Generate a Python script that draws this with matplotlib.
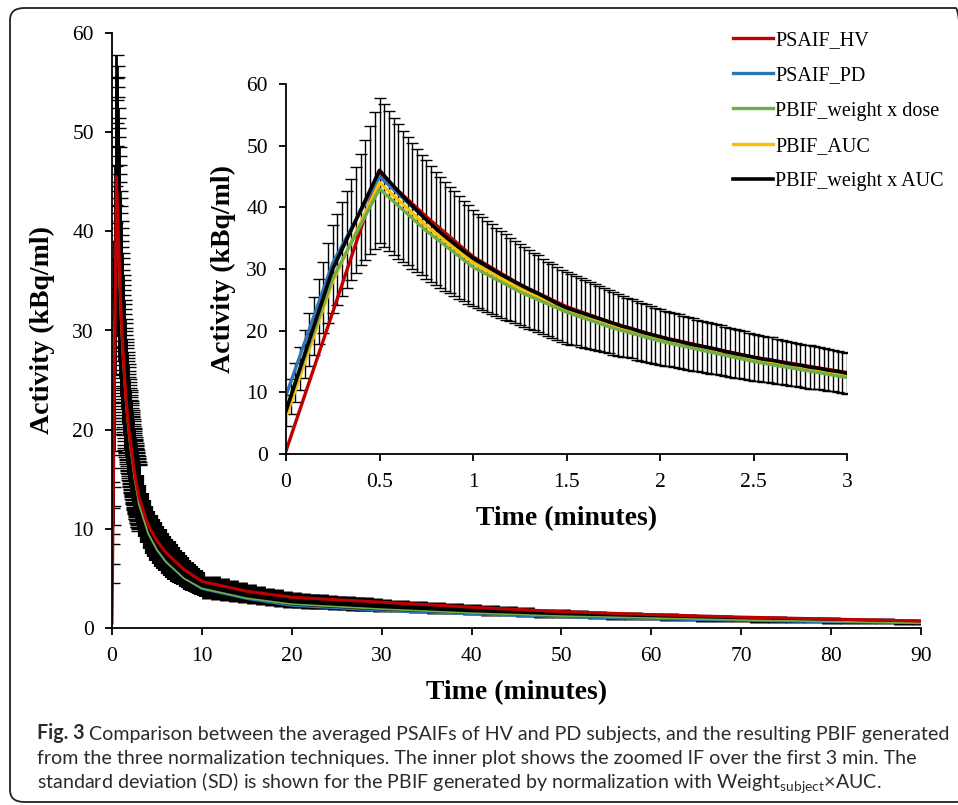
import matplotlib
matplotlib.use("Agg")
import matplotlib.pyplot as plt
from matplotlib.patches import FancyBboxPatch

plt.rcParams["mathtext.fontset"] = "custom"
plt.rcParams["mathtext.rm"] = "Lato"

# ---- data ----
# black series (PBIF_weight x AUC) with SD, dense sampling for the error bars
t_early = [round(0.025 * i, 3) for i in range(121)]          # 0 .. 3 min
t_mid = [round(3 + 0.25 * i, 2) for i in range(1, 29)]        # 3.25 .. 10 min
t_late = list(range(11, 31)) + list(range(32, 91, 2))         # 11 .. 90 min
t_black = t_early + t_mid + t_late

black_mean = [
    # 0 - 0.5
    7.0, 9.3, 11.6, 13.9, 16.2, 18.5, 20.8, 23.1, 25.4, 27.7, 30.0,
    31.6, 33.2, 34.8, 36.4, 38.0, 39.6, 41.2, 42.8, 44.4, 46.0,
    # 0.5 - 1
    45.15, 44.3, 43.45, 42.6, 41.8, 41.0, 40.25, 39.5, 38.75, 38.0,
    37.3, 36.6, 35.95, 35.3, 34.7, 34.1, 33.5, 32.9, 32.35, 31.8,
    # 1 - 1.5
    31.35, 30.9, 30.45, 30.0, 29.55, 29.1, 28.7, 28.3, 27.9, 27.5,
    27.1, 26.7, 26.35, 26.0, 25.6, 25.2, 24.8, 24.4, 24.05, 23.7,
    # 1.5 - 2
    23.45, 23.2, 22.95, 22.7, 22.45, 22.2, 21.95, 21.7, 21.45, 21.2,
    20.95, 20.7, 20.5, 20.3, 20.05, 19.8, 19.6, 19.4, 19.2, 19.0,
    # 2 - 2.5
    18.8, 18.6, 18.45, 18.3, 18.1, 17.9, 17.75, 17.6, 17.45, 17.3,
    17.15, 17.0, 16.8, 16.6, 16.45, 16.3, 16.15, 16.0, 15.85, 15.7,
    # 2.5 - 3
    15.55, 15.4, 15.3, 15.2, 15.05, 14.9, 14.75, 14.6, 14.5, 14.4,
    14.25, 14.1, 14.0, 13.9, 13.75, 13.6, 13.5, 13.4, 13.25, 13.1,
    # 3.25 - 10
    12.3, 11.5, 10.8, 10.2, 9.75, 9.3, 8.95, 8.6, 8.3, 8.0, 7.7, 7.4, 7.15, 6.9,
    6.7, 6.5, 6.3, 6.1, 5.9, 5.7, 5.5, 5.3, 5.15, 5.0, 4.85, 4.7, 4.55, 4.4,
    # 11 - 30
    4.1, 3.9, 3.75, 3.6, 3.45, 3.3, 3.17, 3.05, 2.95, 2.85,
    2.78, 2.7, 2.65, 2.6, 2.55, 2.5, 2.45, 2.4, 2.35, 2.3,
    # 32 - 90
    2.2, 2.1, 2.0, 1.95, 1.85, 1.75, 1.7, 1.6, 1.5, 1.45,
    1.4, 1.3, 1.25, 1.2, 1.15, 1.1, 1.05, 1.0, 0.95, 0.9,
    0.88, 0.85, 0.82, 0.8, 0.75, 0.72, 0.7, 0.66, 0.63, 0.6,
]
black_sd = [
    2.5, 2.8, 3.1, 3.5, 3.9, 4.3, 4.7, 5.25, 5.8, 6.5, 7.2,
    7.4, 7.6, 7.9, 8.2, 8.6, 9.0, 9.7, 10.4, 11.1, 11.8,
    11.55, 11.3, 11.1, 10.9, 10.65, 10.4, 10.2, 10.0, 9.8, 9.6,
    9.4, 9.2, 9.0, 8.8, 8.65, 8.5, 8.3, 8.1, 7.95, 7.8,
    7.65, 7.5, 7.4, 7.3, 7.15, 7.0, 6.9, 6.8, 6.7, 6.6,
    6.5, 6.4, 6.3, 6.2, 6.1, 6.0, 5.95, 5.9, 5.85, 5.8,
    5.7, 5.6, 5.55, 5.5, 5.4, 5.3, 5.25, 5.2, 5.15, 5.1,
    5.0, 4.9, 4.85, 4.8, 4.75, 4.7, 4.65, 4.6, 4.55, 4.5,
    4.45, 4.4, 4.4, 4.4, 4.35, 4.3, 4.25, 4.2, 4.15, 4.1,
    4.1, 4.1, 4.05, 4.0, 3.95, 3.9, 3.9, 3.9, 3.85, 3.8,
    3.75, 3.7, 3.7, 3.7, 3.65, 3.6, 3.6, 3.6, 3.55, 3.5,
    3.5, 3.5, 3.45, 3.4, 3.4, 3.4, 3.35, 3.3, 3.3, 3.3,
    3.1, 2.9, 2.8, 2.7, 2.6, 2.5, 2.45, 2.4, 2.35, 2.3, 2.25, 2.2, 2.15, 2.1,
    2.05, 2.0, 1.9, 1.8, 1.75, 1.7, 1.65, 1.6, 1.55, 1.5, 1.43, 1.35, 1.3, 1.25,
    1.17, 1.1, 1.05, 1.0, 0.95, 0.9, 0.87, 0.85, 0.82, 0.8,
    0.77, 0.75, 0.73, 0.72, 0.71, 0.7, 0.69, 0.68, 0.66, 0.65,
    0.62, 0.6, 0.58, 0.56, 0.54, 0.52, 0.5, 0.48, 0.46, 0.45,
    0.44, 0.42, 0.41, 0.4, 0.39, 0.38, 0.37, 0.36, 0.35, 0.34,
    0.34, 0.33, 0.33, 0.32, 0.32, 0.31, 0.31, 0.3, 0.3, 0.3,
]

# other curves, coarser sampling
t_line = [0, 0.25, 0.5, 0.75, 1, 1.25, 1.5, 1.75, 2, 2.5, 3, 4, 5, 6, 8, 10,
          15, 20, 30, 40, 50, 60, 70, 80, 90]
psaif_hv = [0.5, 23.0, 45.5, 38.5, 32.0, 27.5, 23.9, 21.2, 19.0, 15.7, 13.2,
            10.4, 8.8, 7.6, 5.9, 4.7, 3.7, 3.1, 2.6, 2.1, 1.65, 1.35, 1.1, 0.9, 0.7]
psaif_pd = [9.5, 31.0, 45.0, 38.0, 31.3, 27.0, 23.4, 20.8, 18.6, 15.3, 12.8,
            9.5, 7.8, 6.6, 5.0, 3.9, 2.9, 2.2, 1.7, 1.35, 1.05, 0.85, 0.7, 0.55, 0.45]
pbif_wdose = [7.0, 28.5, 43.0, 36.2, 30.3, 26.3, 23.0, 20.4, 18.3, 15.0, 12.4,
              9.6, 7.9, 6.7, 5.0, 4.0, 3.0, 2.4, 1.9, 1.5, 1.2, 1.0, 0.8, 0.65, 0.5]
pbif_auc = [6.0, 28.0, 44.0, 37.0, 31.0, 26.8, 23.3, 20.7, 18.5, 15.2, 12.7,
            9.8, 8.1, 6.9, 5.3, 4.2, 3.2, 2.6, 2.1, 1.7, 1.35, 1.1, 0.9, 0.75, 0.6]

# (label, values, colour, main-plot width, main-plot z-order)
series = [
    ("PSAIF_HV", psaif_hv, "#C00000", 2.2, 2.2),
    ("PSAIF_PD", psaif_pd, "#2E75B6", 1.0, 2.0),
    ("PBIF_AUC", pbif_auc, "#FFC000", 1.3, 0.5),
    ("PBIF_weight x dose", pbif_wdose, "#70AD47", 1.2, 2.1),
]
legend_order = ["PSAIF_HV", "PSAIF_PD", "PBIF_weight x dose", "PBIF_AUC", "PBIF_weight x AUC"]

SERIF = "Liberation Serif"

fig = plt.figure(figsize=(9.58, 8.05), dpi=100)

# rounded frame around figure + caption
frame = FancyBboxPatch((10 / 958, 3 / 805), 960 / 958, 794 / 805,
                       boxstyle="round,pad=0,rounding_size=0.015",
                       transform=fig.transFigure, fill=False,
                       edgecolor="#222222", linewidth=1.3)
fig.patches.append(frame)


def style_axes(ax, xlim, xticks, xticklabels):
    ax.set_xlim(*xlim)
    ax.set_ylim(0, 60)
    ax.set_xticks(xticks)
    ax.set_xticklabels(xticklabels)
    ax.set_yticks(range(0, 61, 10))
    for s in ("top", "right"):
        ax.spines[s].set_visible(False)
    for s in ("left", "bottom"):
        ax.spines[s].set_linewidth(1.3)
    ax.tick_params(direction="out", length=5, width=1.3, labelsize=15.5)
    ax.tick_params(axis="x", pad=9)
    ax.tick_params(axis="y", pad=8)
    for lab in ax.get_xticklabels() + ax.get_yticklabels():
        lab.set_fontfamily(SERIF)
    ax.set_xlabel("Time (minutes)", fontfamily=SERIF, fontweight="bold", fontsize=20)
    ax.set_ylabel("Activity (kBq/ml)", fontfamily=SERIF, fontweight="bold", fontsize=20)


n1 = len(t_early)
n2 = n1 + len(t_mid)

# ---- main axes ----
ax = fig.add_axes([112 / 958, 1 - 628 / 805, (921 - 112) / 958, (628 - 33) / 805])
# SD bars: dense near the peak, drawn as a solid band further out
ax.errorbar(t_black[:n1], black_mean[:n1], yerr=black_sd[:n1], fmt="none", ecolor="black",
            elinewidth=2.0, capsize=6, capthick=1.0, zorder=1)
ax.errorbar(t_black[n1:n2], black_mean[n1:n2], yerr=black_sd[n1:n2], fmt="none",
            ecolor="black", elinewidth=4.5, capsize=0, zorder=1)
ax.errorbar(t_black[n2:], black_mean[n2:], yerr=black_sd[n2:], fmt="none", ecolor="black",
            elinewidth=13.5, capsize=0, zorder=1)
for name, vals, col, lw, z in series:
    ax.plot(t_line, vals, color=col, lw=lw, zorder=z)
ax.plot(t_black, black_mean, color="black", lw=1.4, zorder=1.5)
style_axes(ax, (0, 90), range(0, 91, 10), [str(v) for v in range(0, 91, 10)])
ax.yaxis.set_label_coords(-0.071, 0.5)
ax.xaxis.set_label_coords(0.5, -0.087)

# ---- inset axes ----
ins = fig.add_axes([286 / 958, 1 - 454 / 805, (847 - 286) / 958, (454 - 84) / 805])
ins.errorbar(t_black, black_mean, yerr=black_sd, fmt="none", ecolor="black",
             elinewidth=1.0, capsize=4, capthick=1.0, zorder=1)
handles = {}
for name, vals, col, _, _ in series:
    h, = ins.plot(t_line, vals, color=col, lw=2.4, zorder=2, label=name)
    handles[name] = h
h, = ins.plot(t_black, black_mean, color="black", lw=2.6, zorder=3,
              label="PBIF_weight x AUC")
handles["PBIF_weight x AUC"] = h
style_axes(ins, (0, 3), [0, 0.5, 1, 1.5, 2, 2.5, 3],
           ["0", "0.5", "1", "1.5", "2", "2.5", "3"])
ins.yaxis.set_label_coords(-0.089, 0.5)
ins.xaxis.set_label_coords(0.5, -0.14)

fig.legend(handles=[handles[k] for k in legend_order], loc="upper left",
           bbox_to_anchor=(733 / 958, 1 - 31 / 805),
           frameon=False, prop={"family": SERIF, "size": 14.5}, handlelength=2.0,
           handletextpad=0.1, labelspacing=0.8, borderaxespad=0, borderpad=0)

# ---- caption ----
cap_kw = dict(fontfamily="Lato", fontsize=14.1, color="#2B2B2B")
t1 = fig.text(37 / 958, 1 - 739 / 805, "Fig. 3", fontweight="bold", va="baseline", **cap_kw)
ax.annotate(" Comparison between the averaged PSAIFs of HV and PD subjects, and the resulting PBIF generated",
            xy=(1, 0), xycoords=t1, va="bottom", ha="left", annotation_clip=False, **cap_kw)
fig.text(37 / 958, 1 - 764 / 805,
         "from the three normalization techniques. The inner plot shows the zoomed IF over the first 3 min. The",
         va="baseline", **cap_kw)
fig.text(37 / 958, 1 - 789 / 805,
         r"standard deviation (SD) is shown for the PBIF generated by normalization with Weight$_{\mathregular{subject}}$×AUC.",
         va="baseline", **cap_kw)

fig.savefig("out.png", dpi=100)
